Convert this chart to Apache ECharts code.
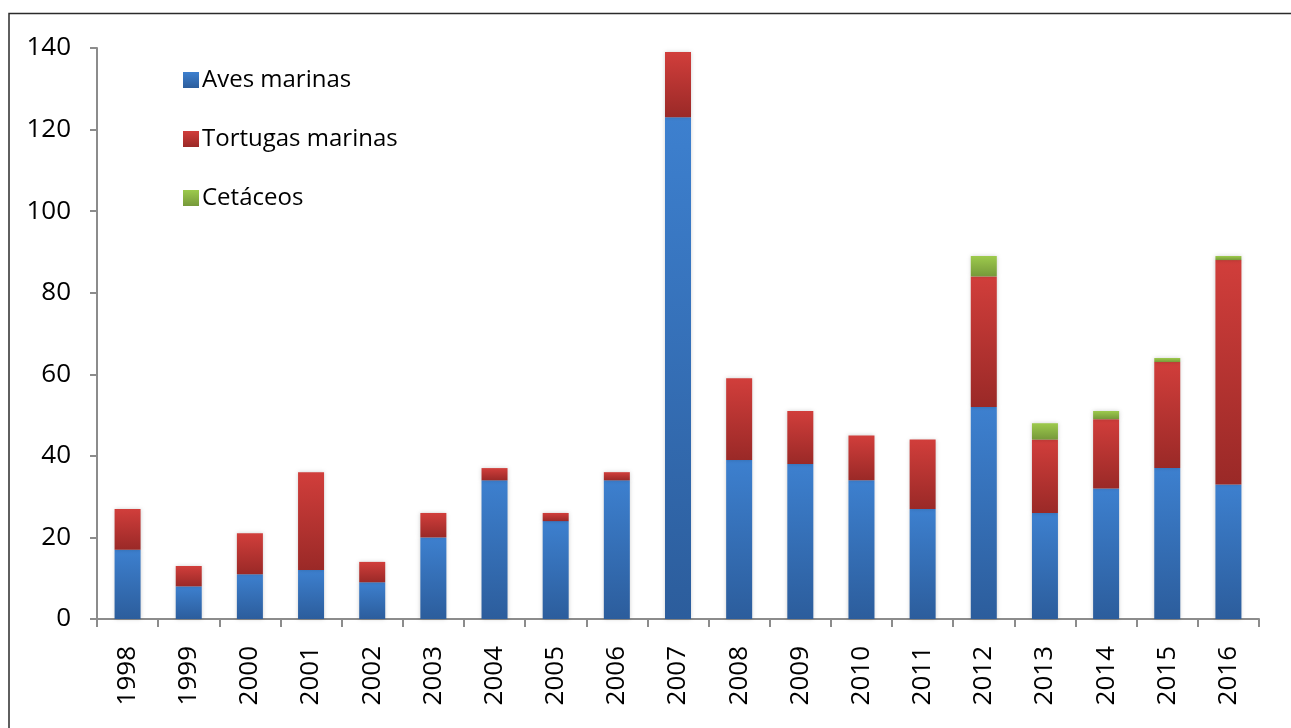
<!DOCTYPE html>
<html>
<head>
<meta charset="utf-8">
<title>Aves marinas, tortugas marinas y cetáceos por año</title>
<script src="https://cdn.jsdelivr.net/npm/echarts@6/dist/echarts.min.js"></script>
<style>
  html, body { margin: 0; padding: 0; background: #ffffff; }
  #chart { width: 1291px; height: 728px; }
</style>
</head>
<body>
<div id="chart"></div>
<script>
// Years on the category axis
const years = ['1998', '1999', '2000', '2001', '2002', '2003', '2004', '2005', '2006', '2007',
               '2008', '2009', '2010', '2011', '2012', '2013', '2014', '2015', '2016'];

// Stacked counts per group
const avesMarinas     = [17, 8, 11, 12, 9, 20, 34, 24, 34, 123, 39, 38, 34, 27, 52, 26, 32, 37, 33];
const tortugasMarinas = [10, 5, 10, 24, 5, 6, 3, 2, 2, 16, 20, 13, 11, 17, 32, 18, 17, 26, 55];
const cetaceos        = [0, 0, 0, 0, 0, 0, 0, 0, 0, 0, 0, 0, 0, 0, 5, 4, 2, 1, 1];

// Value axis ticks
const yTicks = [0, 20, 40, 60, 80, 100, 120, 140];

const FONT = '"Open Sans", "Noto Sans", sans-serif';
const AXIS_GRAY = '#8c8c8c';

function grad(top, bottom) {
  return new echarts.graphic.LinearGradient(0, 0, 0, 1, [
    { offset: 0, color: top },
    { offset: 1, color: bottom }
  ]);
}

const palette = {
  aves: grad('#3d80cf', '#2c5d9c'),
  tortugas: grad('#d13e3b', '#9a2927'),
  cetaceos: grad('#9dca4c', '#76993a')
};

function barSeries(name, data, color) {
  return {
    name: name,
    type: 'bar',
    stack: 'total',
    data: data,
    barWidth: 26,
    itemStyle: {
      color: color,
      shadowColor: 'rgba(0,0,0,0.18)',
      shadowBlur: 4
    },
    emphasis: { disabled: true }
  };
}

const chart = echarts.init(document.getElementById('chart'), null, { renderer: 'canvas' });

chart.setOption({
  animation: false,
  backgroundColor: '#ffffff',
  graphic: [{
    type: 'rect',
    left: 6.5,
    top: 11,
    shape: { x: 0, y: 0, width: 1400, height: 800 },
    style: { fill: 'none', stroke: '#2b2b2b', lineWidth: 1.5 },
    silent: true,
    z: -1
  }],
  legend: {
    orient: 'vertical',
    left: 178,
    top: 63,
    itemWidth: 16,
    itemHeight: 16,
    itemGap: 35,
    icon: 'rect',
    data: ['Aves marinas', 'Tortugas marinas', 'Cetáceos'],
    textStyle: { fontFamily: FONT, fontSize: 24, color: '#000000', padding: [0, 0, 0, -2] }
  },
  grid: {
    left: 97,
    right: 32,
    top: 48,
    bottom: 109,
    containLabel: false
  },
  xAxis: {
    type: 'category',
    data: years,
    boundaryGap: true,
    axisLine: { show: true, lineStyle: { color: AXIS_GRAY, width: 2 } },
    axisTick: { show: true, alignWithLabel: false, length: 8, lineStyle: { color: AXIS_GRAY, width: 2 } },
    axisLabel: {
      rotate: 90,
      margin: 27,
      fontFamily: FONT,
      fontSize: 26,
      color: '#000000'
    },
    splitLine: { show: false }
  },
  yAxis: {
    type: 'value',
    min: yTicks[0],
    max: yTicks[yTicks.length - 1],
    interval: yTicks[1] - yTicks[0],
    axisLine: { show: true, lineStyle: { color: AXIS_GRAY, width: 2 } },
    axisTick: { show: true, length: 7, lineStyle: { color: AXIS_GRAY, width: 2 } },
    axisLabel: {
      margin: 26,
      fontFamily: FONT,
      fontSize: 26,
      color: '#000000'
    },
    splitLine: { show: false }
  },
  series: [
    barSeries('Aves marinas', avesMarinas, palette.aves),
    barSeries('Tortugas marinas', tortugasMarinas, palette.tortugas),
    barSeries('Cetáceos', cetaceos, palette.cetaceos)
  ]
});
</script>
</body>
</html>
